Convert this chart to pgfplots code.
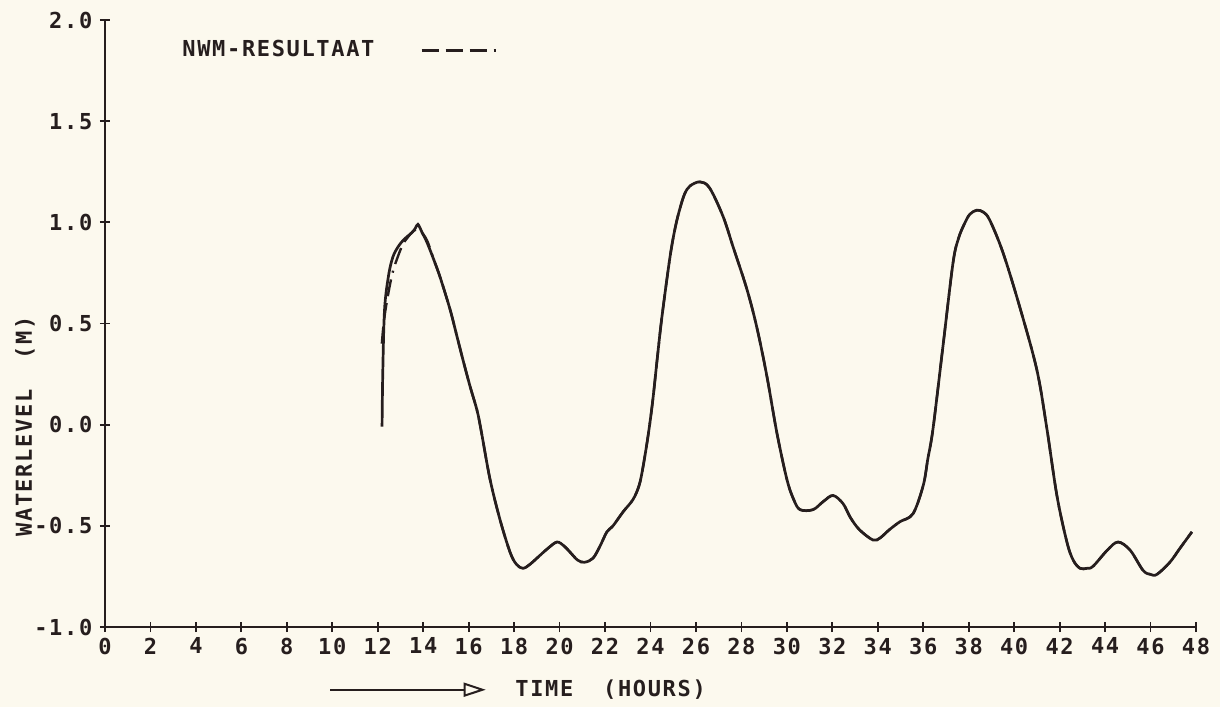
\documentclass[border=0pt]{standalone}
\usepackage{fontspec}
\setmainfont{DejaVu Sans Mono}[LetterSpace=7.5]
\usepackage{pgfplots}
\pgfplotsset{compat=1.18}
\usetikzlibrary{arrows.meta}
\definecolor{bg}{RGB}{252,249,238}
\definecolor{ink}{RGB}{38,30,30}

\pgfplotstableread{
x y
12.19 -0.01
12.22 0.25
12.30 0.57
12.48 0.74
12.67 0.83
12.90 0.88
13.11 0.91
13.30 0.93
13.51 0.95
13.65 0.97
13.77 0.99
13.95 0.95
14.17 0.90
14.45 0.82
14.74 0.73
15.18 0.57
15.50 0.43
15.75 0.32
16.06 0.19
16.37 0.07
16.55 -0.03
16.94 -0.27
17.38 -0.47
17.82 -0.63
18.10 -0.69
18.39 -0.71
18.70 -0.69
19.00 -0.66
19.50 -0.61
19.89 -0.58
20.20 -0.60
20.46 -0.63
20.80 -0.67
21.10 -0.68
21.47 -0.66
21.78 -0.60
22.08 -0.53
22.35 -0.50
22.80 -0.43
23.23 -0.37
23.50 -0.30
23.67 -0.21
23.90 -0.05
24.10 0.12
24.30 0.33
24.50 0.53
24.86 0.83
25.10 0.98
25.30 1.07
25.50 1.14
25.74 1.18
26.18 1.20
26.60 1.17
27.19 1.03
27.63 0.88
28.24 0.67
28.68 0.48
29.12 0.24
29.56 -0.04
30.00 -0.27
30.30 -0.37
30.58 -0.42
31.15 -0.42
31.60 -0.38
32.03 -0.35
32.47 -0.39
32.80 -0.46
33.20 -0.52
33.79 -0.57
34.10 -0.56
34.50 -0.52
34.97 -0.48
35.55 -0.44
36.00 -0.30
36.20 -0.17
36.43 -0.02
36.87 0.39
37.31 0.80
37.55 0.92
37.80 0.99
38.05 1.04
38.36 1.06
38.65 1.05
38.93 1.01
39.51 0.85
40.25 0.58
41.00 0.27
41.44 -0.02
41.88 -0.35
42.32 -0.58
42.60 -0.67
42.90 -0.71
43.20 -0.71
43.47 -0.70
44.10 -0.62
44.57 -0.58
45.10 -0.62
45.67 -0.72
46.00 -0.74
46.28 -0.74
46.85 -0.68
47.30 -0.61
47.82 -0.53
}\solid

\pgfplotstableread{
x y
12.18 0.40
12.28 0.52
12.45 0.64
12.65 0.75
12.85 0.82
13.10 0.89
13.35 0.93
13.60 0.96
13.85 0.96
14.17 0.91
14.45 0.82
14.74 0.73
15.18 0.57
15.50 0.43
15.75 0.32
16.06 0.19
16.37 0.07
16.55 -0.03
16.94 -0.27
17.38 -0.47
17.82 -0.63
18.10 -0.69
18.39 -0.71
18.70 -0.69
19.00 -0.66
19.50 -0.61
19.89 -0.58
20.20 -0.60
20.46 -0.63
20.80 -0.67
21.10 -0.68
21.47 -0.66
21.78 -0.60
22.08 -0.53
22.35 -0.50
22.80 -0.43
23.23 -0.37
23.50 -0.30
23.67 -0.21
23.90 -0.05
24.10 0.12
24.30 0.33
24.50 0.53
24.86 0.83
25.10 0.98
25.30 1.07
25.50 1.14
25.74 1.18
26.18 1.20
26.60 1.17
27.19 1.03
27.63 0.88
28.24 0.67
28.68 0.48
29.12 0.24
29.56 -0.04
30.00 -0.27
30.30 -0.37
30.58 -0.42
31.15 -0.42
31.60 -0.38
32.03 -0.35
32.47 -0.39
32.80 -0.46
33.20 -0.52
33.79 -0.57
34.10 -0.56
34.50 -0.52
34.97 -0.48
35.55 -0.44
36.00 -0.30
36.20 -0.17
36.43 -0.02
36.87 0.39
37.31 0.80
37.55 0.92
37.80 0.99
38.05 1.04
38.36 1.06
38.65 1.05
38.93 1.01
39.51 0.85
40.25 0.58
41.00 0.27
41.44 -0.02
41.88 -0.35
42.32 -0.58
42.60 -0.67
42.90 -0.71
43.20 -0.71
43.47 -0.70
44.10 -0.62
44.57 -0.58
45.10 -0.62
45.67 -0.72
46.00 -0.74
46.28 -0.74
46.85 -0.68
47.30 -0.61
47.82 -0.53
}\dashed

\begin{document}
\fontsize{11pt}{13pt}\selectfont\bfseries
\begin{tikzpicture}
\fill[bg] (-52.5pt,-40pt) rectangle (557.5pt,313.5pt);
\begin{axis}[
  at={(0pt,0pt)}, anchor=south west,
  scale only axis, width=545.5pt, height=303.5pt,
  xmin=0, xmax=48, ymin=-1, ymax=2,
  axis x line=bottom, axis y line=left,
  axis line style={-, line width=1.1pt, ink},
  xtick={0,2,...,48}, ytick={-1,-0.5,0,0.5,1,1.5,2},
  tick align=center, major tick length=5pt,
  tick style={line width=0.9pt, ink},
  every tick label/.append style={text=ink, font=\fontsize{11pt}{13pt}\selectfont\bfseries},
  xticklabel style={/pgf/number format/assume math mode=true, yshift=1pt},
  yticklabel style={/pgf/number format/.cd, fixed, fixed zerofill, precision=1, assume math mode=true},
  clip=false,
  legend plot pos=right,
  legend style={at={(axis cs:3.39,1.85)}, anchor=west, draw=none, fill=none,
    inner sep=0pt, text=ink, nodes={inner sep=0pt}},
  legend image code/.code={\path (0pt,0pt); \draw[#1] (23pt,0pt) -- (61pt,0pt);},
]
\addplot[ink, line width=1.35pt, smooth, tension=0.55, forget plot] table {\solid};
\addplot[ink, line width=1.2pt, smooth, tension=0.55,
  dash pattern=on 8.5pt off 3.5pt on 8.5pt off 3.5pt on 8.5pt off 3.5pt on 1pt off 3.5pt] table {\dashed};
\addlegendentry{NWM-RESULTAAT}
\draw[ink, line width=1pt, -{Triangle[open, length=11pt, width=7pt]}] (axis cs:9.9,-1.31) -- (axis cs:16.75,-1.31);
\node[anchor=west, inner sep=0pt, text=ink] at (axis cs:18.04,-1.31) {TIME\ \ (HOURS)};
\node[rotate=90, inner sep=0pt, text=ink] at (axis cs:-3.52,-0.01) {WATERLEVEL\ \ (M)};
\end{axis}
\pgfresetboundingbox
\path[use as bounding box] (-52.5pt,-40pt) rectangle (557.5pt,313.5pt);
\end{tikzpicture}
\end{document}
